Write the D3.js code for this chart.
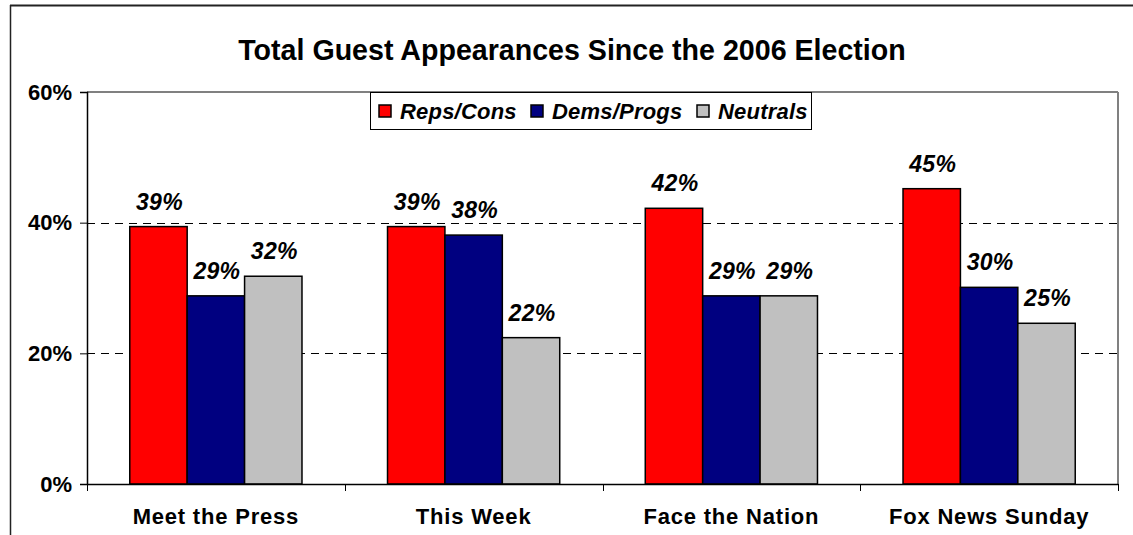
<!DOCTYPE html>
<html>
<head>
<meta charset="utf-8">
<script src="https://cdn.jsdelivr.net/npm/d3@7"></script>
<style>
  html, body { margin: 0; padding: 0; background: #fff; }
  svg { display: block; }
  text { font-family: "Liberation Sans", Arial, sans-serif; font-weight: bold; fill: #000; }
</style>
</head>
<body>
<svg id="chart" width="1133" height="535"></svg>
<script>
const title = "Total Guest Appearances Since the 2006 Election";
const categories = ["Meet the Press", "This Week", "Face the Nation", "Fox News Sunday"];
const seriesNames = ["Reps/Cons", "Dems/Progs", "Neutrals"];
const repsCons = [39.4, 39.4, 42.2, 45.2];
const demsProgs = [28.8, 38.1, 28.8, 30.1];
const neutrals = [31.8, 22.4, 28.8, 24.6];
const yTicks = [0, 20, 40, 60];
const seriesColors = ["#FF0000", "#000080", "#C0C0C0"];

const seriesValues = [repsCons, demsProgs, neutrals];

const svg = d3.select("#chart");
const W = 1133, H = 535;
const plot = { left: 87, right: 1118, top: 92, bottom: 484 };

// outer chart frame
svg.append("line").attr("x1", 10).attr("x2", W).attr("y1", 5.5).attr("y2", 5.5)
  .attr("stroke", "#222").attr("stroke-width", 2);
svg.append("line").attr("x1", 10.5).attr("x2", 10.5).attr("y1", 5).attr("y2", H)
  .attr("stroke", "#222").attr("stroke-width", 1.5);

// title
svg.append("text").attr("x", 572).attr("y", 60).attr("text-anchor", "middle")
  .style("font-size", "28.6px").text(title);

const x0 = d3.scaleBand().domain(categories).range([plot.left, plot.right]).padding(0);
const x1 = d3.scaleBand().domain(seriesNames).range([0, x0.bandwidth()])
  .paddingInner(0).paddingOuter(0.745);
const y = d3.scaleLinear().domain([0, 60]).range([plot.bottom, plot.top]);

// plot area border (top/right gray)
svg.append("line").attr("x1", plot.left).attr("x2", plot.right).attr("y1", plot.top).attr("y2", plot.top)
  .attr("stroke", "#808080").attr("stroke-width", 2);
svg.append("line").attr("x1", plot.right).attr("x2", plot.right).attr("y1", plot.top).attr("y2", plot.bottom)
  .attr("stroke", "#808080").attr("stroke-width", 2);

// gridlines
svg.append("g").selectAll("line").data(yTicks.filter(t => t > 0 && t < 60)).join("line")
  .attr("x1", plot.left).attr("x2", plot.right)
  .attr("y1", d => Math.round(y(d)) + 0.5).attr("y2", d => Math.round(y(d)) + 0.5)
  .attr("stroke", "#000").attr("stroke-width", 1).attr("stroke-dasharray", "8,6");

// bars
const rows = categories.map((c, i) => ({ cat: c, vals: seriesNames.map((s, j) => ({ s, j, v: seriesValues[j][i] })) }));
const groups = svg.append("g").selectAll("g").data(rows).join("g")
  .attr("transform", d => `translate(${x0(d.cat)},0)`);
groups.selectAll("rect").data(d => d.vals).join("rect")
  .attr("x", d => x1(d.s)).attr("width", x1.bandwidth())
  .attr("y", d => y(d.v)).attr("height", d => y(0) - y(d.v))
  .attr("fill", d => seriesColors[d.j]).attr("stroke", "#000").attr("stroke-width", 1.5);
groups.selectAll("text").data(d => d.vals).join("text")
  .attr("x", d => x1(d.s) + x1.bandwidth() / 2 + 1)
  .attr("y", d => y(d.v) - 17)
  .attr("text-anchor", "middle")
  .style("font-size", "23px").style("font-style", "italic").style("letter-spacing", "0.3px")
  .text(d => Math.round(d.v) + "%");

// y axis
const yAxis = svg.append("g").attr("transform", `translate(${plot.left},0)`)
  .call(d3.axisLeft(y).tickValues(yTicks).tickFormat(d => d + "%").tickSize(7).tickPadding(8));
yAxis.select(".domain").attr("stroke", "#000").attr("stroke-width", 1.5);
yAxis.selectAll(".tick line").attr("stroke", "#000");
yAxis.selectAll("text").style("font-size", "22px").style("font-family", "'Liberation Sans', Arial, sans-serif")
  .style("font-weight", "bold").attr("fill", "#000");

// x axis
const xAxis = svg.append("g").attr("transform", `translate(0,${plot.bottom})`)
  .call(d3.axisBottom(x0).tickSize(0).tickPadding(24));
xAxis.select(".domain").attr("stroke", "#000").attr("stroke-width", 1.5);
xAxis.selectAll("text").style("font-size", "22px").style("font-family", "'Liberation Sans', Arial, sans-serif")
  .style("font-weight", "bold").style("letter-spacing", "0.8px").attr("fill", "#000");
// category boundary ticks
const bounds = categories.map(c => x0(c)).concat([x0.range()[1]]);
xAxis.append("g").selectAll("line").data(bounds).join("line")
  .attr("x1", d => Math.round(d) + 0.5).attr("x2", d => Math.round(d) + 0.5)
  .attr("y1", 0).attr("y2", 7).attr("stroke", "#000");

// legend
const leg = svg.append("g").attr("transform", "translate(370,92)");
leg.append("rect").attr("x", 0.5).attr("y", 0.5).attr("width", 441).attr("height", 37)
  .attr("fill", "#fff").attr("stroke", "#000").attr("stroke-width", 1);
const legX = [9, 161, 327];
const items = leg.selectAll("g.item").data(seriesNames).join("g").attr("class", "item")
  .attr("transform", (d, i) => `translate(${legX[i]},0)`);
items.append("rect").attr("x", 0).attr("y", 13).attr("width", 12).attr("height", 12)
  .attr("fill", (d, i) => seriesColors[i]).attr("stroke", "#000").attr("stroke-width", 1.5);
items.append("text").attr("x", 21).attr("y", 26.5)
  .style("font-size", "22px").style("font-style", "italic").style("letter-spacing", "0.2px").text(d => d);
</script>
</body>
</html>
